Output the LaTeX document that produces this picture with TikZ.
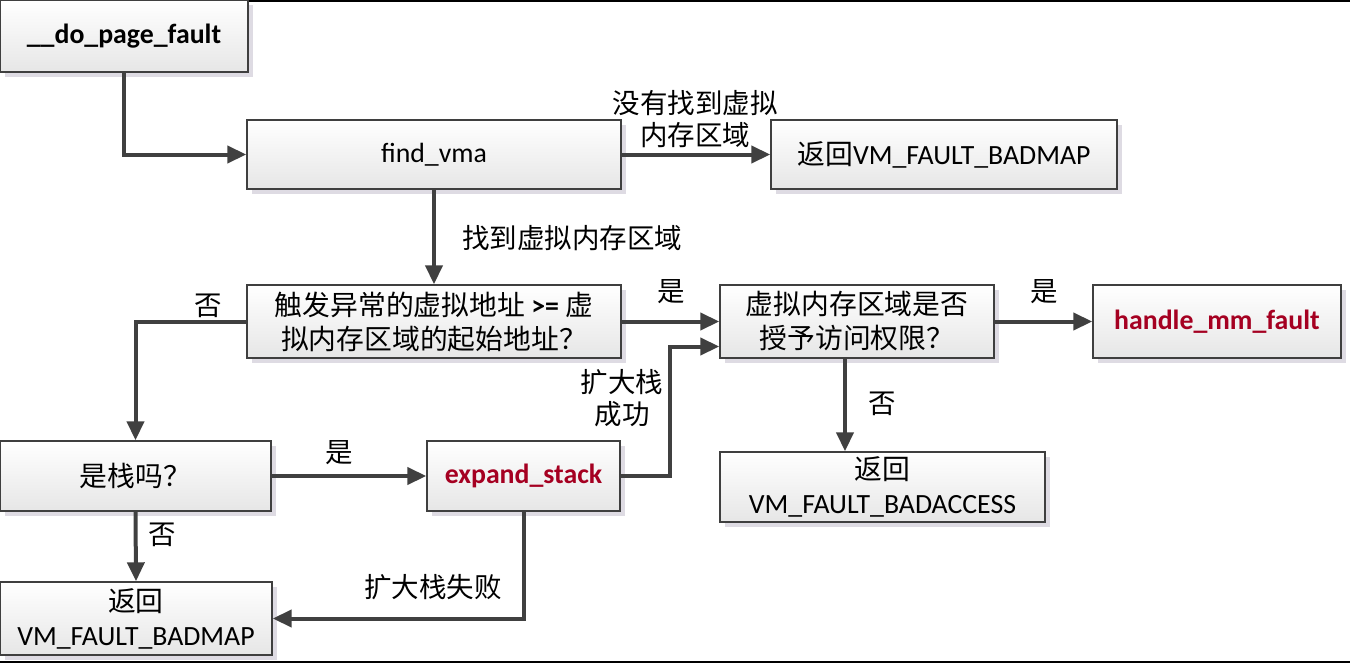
\documentclass[tikz,border=0pt]{standalone}
\usepackage{fontspec}
\setmainfont{Carlito}
\newfontfamily\cjk{Noto Sans CJK SC}
\usetikzlibrary{arrows.meta,shadows,calc}
\definecolor{bordc}{HTML}{3F3F3F}
\definecolor{arrc}{HTML}{404040}
\definecolor{shadc}{HTML}{DEDBE3}
\definecolor{redtxt}{HTML}{A50021}
\definecolor{botc}{HTML}{E6E6E6}
\tikzset{
  boxnode/.style={draw=bordc, line width=1.4pt, rectangle, inner sep=0pt,
    top color=white, bottom color=botc, align=center,
    font=\fontsize{27.8}{34}\selectfont,
    drop shadow={shadow xshift=5pt, shadow yshift=-5pt, fill=shadc, opacity=1}},
  lbl/.style={align=center, inner sep=0pt, font=\fontsize{27.5}{32}\selectfont\cjk},
  arr/.style={draw=arrc, line width=4pt, -{Triangle[length=19pt,width=17pt,fill=arrc]}},
  frameline/.style={draw=black, line width=2.5pt}
}
\begin{document}
\begin{tikzpicture}[x=1pt,y=-1pt]
\useasboundingbox (0,0) rectangle (1350,664);
\draw[frameline] (0,1) -- (1350,1);
\draw[frameline] (0,662) -- (1350,662);

\node[boxnode, minimum width=248pt, minimum height=72pt] (dpf) at (124,36) {\textbf{\_\_do\_page\_fault}};
\node[boxnode, minimum width=374pt, minimum height=69pt] (fv) at (434,154.5) {find\_vma};
\node[boxnode, minimum width=346pt, minimum height=69pt] (bm1) at (944,154.5) {{\cjk 返回}VM\_FAULT\_BADMAP};
\node[boxnode, minimum width=374pt, minimum height=73pt] (d1) at (434,321.5) {{\cjk 触发异常的虚拟地址} \textbf{>=} {\cjk 虚}\\{\cjk 拟内存区域的起始地址？}};
\node[boxnode, minimum width=274pt, minimum height=73pt] (d2) at (857,321.5) {{\cjk 虚拟内存区域是否}\\{\cjk 授予访问权限？}};
\node[boxnode, minimum width=248pt, minimum height=73pt] (hmm) at (1217,321.5) {\textcolor{redtxt}{\textbf{handle\_mm\_fault}}};
\node[boxnode, minimum width=271pt, minimum height=70pt] (stk) at (135.5,476) {{\cjk 是栈吗？}};
\node[boxnode, minimum width=193pt, minimum height=70pt] (es) at (523.5,476) {\textcolor{redtxt}{\textbf{expand\_stack}}};
\node[boxnode, minimum width=325pt, minimum height=70pt] (bacc) at (882.5,487) {{\cjk 返回}\\VM\_FAULT\_BADACCESS};
\node[boxnode, minimum width=272pt, minimum height=73pt] (bm2) at (136,618.5) {{\cjk 返回}\\VM\_FAULT\_BADMAP};

\draw[arr] (dpf.south) |- (fv.west);
\draw[arr] (fv.east) -- (bm1.west);
\draw[arr] (fv.south) -- (d1.north);
\draw[arr] (d1.east) -- (d2.west);
\draw[arr] (d1.west) -| (stk.north);
\draw[arr] (stk.east) -- (es.west);
\draw[arr] (stk.south) -- (bm2.north);
\draw[arr] (es.east) -| ([xshift=-49pt,yshift=-25pt]d2.west) -- ([yshift=-25pt]d2.west);
\draw[arr] (es.south) |- (bm2.east);
\draw[arr] (d2.east) -- (hmm.west);
\draw[arr] ([xshift=-12pt]d2.south) -- ([xshift=-12pt]d2.south |- bacc.north);

\node[lbl] (l1) at (695,119) {没有找到虚拟\\内存区域};
\node[lbl] (l2) at (572,238) {找到虚拟内存区域};
\node[lbl] (l3) at (671,292) {是};
\node[lbl] (l4) at (208,306) {否};
\node[lbl] (l5) at (339,453) {是};
\node[lbl] (l6) at (162,535) {否};
\node[lbl] (l7) at (622,398) {扩大栈\\成功};
\node[lbl] (l8) at (433,587) {扩大栈失败};
\node[lbl] (l9) at (1044,292) {是};
\node[lbl] (l10) at (882,404) {否};
\end{tikzpicture}
\end{document}
